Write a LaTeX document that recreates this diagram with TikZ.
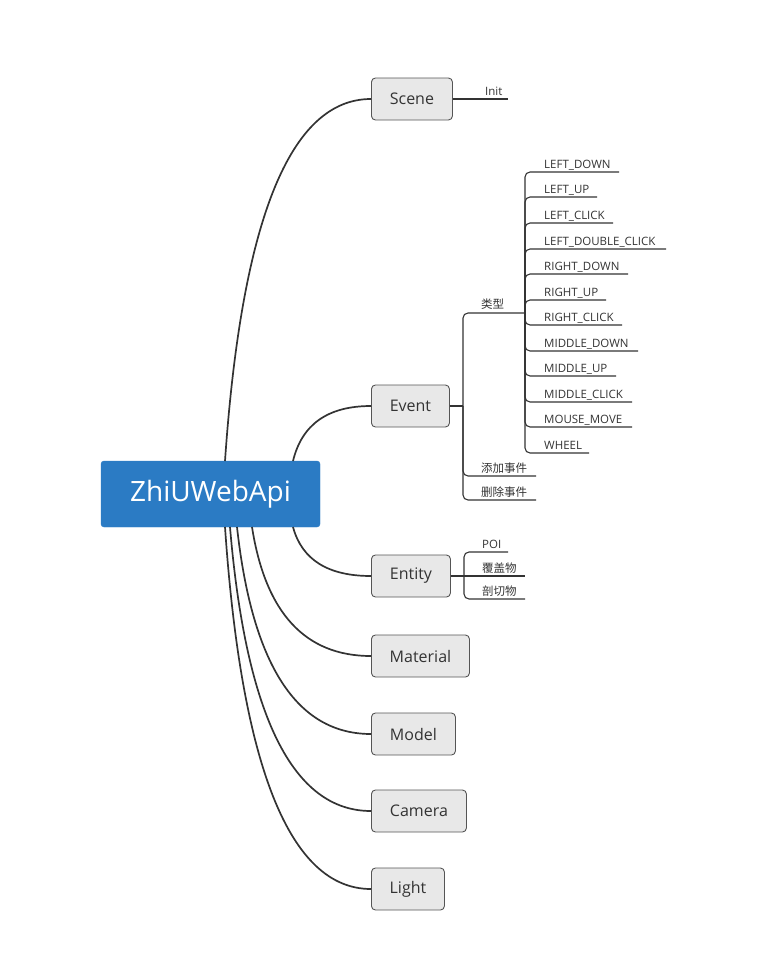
\documentclass[tikz,border=0pt]{standalone}
\usepackage{fontspec}
\setmainfont{Open Sans}
\newfontfamily\cjk{Noto Sans CJK SC}
\usetikzlibrary{calc}
\definecolor{rootblue}{HTML}{2B7BC4}
\definecolor{boxfill}{HTML}{E8E8E8}
\definecolor{boxline}{HTML}{555555}
\definecolor{txt}{HTML}{333333}
\definecolor{wire}{HTML}{333333}
\begin{document}
\begin{tikzpicture}[x=1pt,y=-1pt,
  rootbox/.style={draw=rootblue,fill=rootblue,rounded corners=3pt,minimum width=219pt,minimum height=66pt,text=white,font=\fontsize{28}{30}\selectfont,inner sep=0pt},
  topicbox/.style={draw=boxline,fill=boxfill,rounded corners=4pt,line width=0.9pt,minimum height=42pt,inner xsep=18pt,text=txt,font=\fontsize{16}{18}\selectfont,anchor=west},
  leaf/.style={anchor=base west,inner sep=0pt,text=txt,font=\fontsize{11.5}{13}\selectfont},
  mainwire/.style={draw=wire,line width=1.7pt},
  subwire/.style={draw=wire,line width=1.1pt,rounded corners=5pt}]
\useasboundingbox (0,0) rectangle (775,966);
% root
\node[rootbox] (root) at (210.5,494) {ZhiUWebApi};
% topics
\node[topicbox,minimum width=81pt] (scene) at (371,99) {Scene};
\node[topicbox,minimum width=78pt] (event) at (371,406) {Event};
\node[topicbox,minimum width=79pt] (entity) at (371,576) {Entity};
\node[topicbox,minimum width=98pt] (material) at (371,656) {Material};
\node[topicbox,minimum width=84pt] (model) at (371,734) {Model};
\node[topicbox,minimum width=95pt] (camera) at (371,811) {Camera};
\node[topicbox,minimum width=73pt] (light) at (371,889) {Light};
% root anchors
\coordinate (rs) at (225,461);
\coordinate (re) at (293,461);
\coordinate (rn) at (293,527);
\coordinate (rm) at (252,527);
\coordinate (rmo) at (237,527);
\coordinate (rc) at (230,527);
\coordinate (rl) at (225,527);
\foreach \s/\t in {rs/scene,re/event,rn/entity,rm/material,rmo/model,rc/camera,rl/light}{
  \coordinate (m-\t) at ($(\s)!0.17!(\t.west)$);
  \coordinate (c-\t) at (m-\t |- \t.west);
  \draw[mainwire] (\s) .. controls ($(\s)!2/3!(c-\t)$) and ($(\t.west)!2/3!(c-\t)$) .. (\t.west);
}
% Scene -> Init
\node[leaf] (init) at (485,95) {Init};
\coordinate (initend) at (508,99);
\draw[subwire] (scene.east) -- (initend);
% Event
\coordinate (evtrunk) at (463,406);
\draw[subwire] (event.east) -- (evtrunk);
\node[leaf] (leixing) at (481,308) {\cjk 类型};
\coordinate (typetrunk) at (525,313);
\draw[subwire] (evtrunk) |- (typetrunk);
\node[leaf] (add) at (481,472) {\cjk 添加事件};
\coordinate (addend) at (536,476);
\draw[subwire] (evtrunk) |- (addend);
\node[leaf] (del) at (481,496) {\cjk 删除事件};
\coordinate (delend) at (536,500);
\draw[subwire] (evtrunk) |- (delend);
\foreach \nm/\yy/\ex/\tx in {
  ld/172/619/LEFT\_DOWN,
  lu/197/597/LEFT\_UP,
  lc/223/613/LEFT\_CLICK,
  ldc/249/666/LEFT\_DOUBLE\_CLICK,
  rd/274/628/RIGHT\_DOWN,
  ru/300/606/RIGHT\_UP,
  rcl/325/622/RIGHT\_CLICK,
  md/351/638/MIDDLE\_DOWN,
  mu/376/616/MIDDLE\_UP,
  mc/402/632/MIDDLE\_CLICK,
  mm/427/632/MOUSE\_MOVE,
  wh/453/589/WHEEL}{
  \node[leaf] (\nm) at (544,\yy-4) {\tx};
  \coordinate (\nm end) at (\ex,\yy);
  \draw[subwire] (typetrunk) |- (\nm end);
}
% Entity
\coordinate (entrunk) at (464,576);
\draw[subwire] (entity.east) -- (entrunk);
\node[leaf] (poi) at (482,548) {POI};
\coordinate (poiend) at (508,552);
\draw[subwire] (entrunk) |- (poiend);
\node[leaf] (fgw) at (482,572) {\cjk 覆盖物};
\coordinate (fgwend) at (525,576);
\draw[subwire] (entrunk) -- (fgwend);
\node[leaf] (pqw) at (482,595) {\cjk 剖切物};
\coordinate (pqwend) at (525,599);
\draw[subwire] (entrunk) |- (pqwend);
\end{tikzpicture}
\end{document}
